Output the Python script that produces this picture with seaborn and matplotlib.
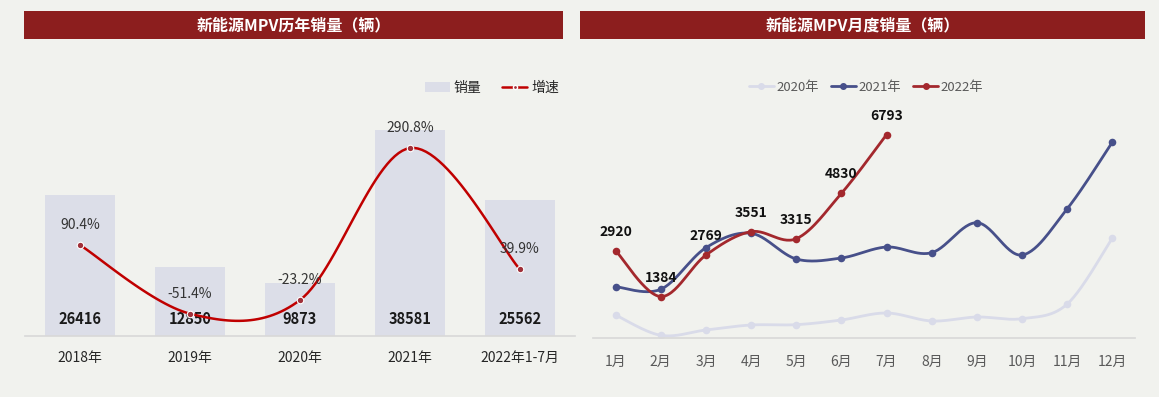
import numpy as np
import matplotlib
matplotlib.use("Agg")
import matplotlib.pyplot as plt
import seaborn as sns
from matplotlib.patches import Rectangle, Patch
from matplotlib.lines import Line2D

# ---------------- data ----------------
years = ["2018年", "2019年", "2020年", "2021年", "2022年1-7月"]
sales = [26416, 12850, 9873, 38581, 25562]
growth = [90.4, -51.4, -23.2, 290.8, 39.9]

months = ["1月", "2月", "3月", "4月", "5月", "6月", "7月", "8月", "9月", "10月", "11月", "12月"]
m2020 = [768, 90, 267, 434, 445, 601, 835, 568, 701, 645, 1135, 3340]
m2021 = [1713, 1626, 3015, 3496, 2638, 2671, 3038, 2849, 3850, 2771, 4317, 6544]
m2022 = [2920, 1384, 2769, 3551, 3315, 4830, 6793]

title_left = "新能源MPV历年销量（辆）"
title_right = "新能源MPV月度销量（辆）"

# ---------------- style ----------------
BG = "#F1F2EE"
BAR = "#DCDEE8"
RED_LINE = "#C00000"
TITLE_BG = "#8C1E1E"
C2020 = "#D9DBE9"
C2021 = "#47508A"
C2022 = "#A3282D"

sns.set_theme(style="white")
plt.rcParams["font.family"] = ["Noto Sans CJK SC", "DejaVu Sans"]

W, H = 1159, 397
fig = plt.figure(figsize=(W / 100, H / 100), dpi=100, facecolor=BG)


def rect(l, t, r, b):
    return [l / W, 1 - b / H, (r - l) / W, (b - t) / H]


def smooth(xs, ys, n=30):
    """Catmull-Rom curve through the points (Excel-like smoothed line)."""
    xs = np.asarray(xs, float)
    ys = np.asarray(ys, float)
    px, py = [], []
    k = len(xs)
    for i in range(k - 1):
        x0, y0 = (xs[i - 1], ys[i - 1]) if i > 0 else (xs[i], ys[i])
        x3, y3 = (xs[i + 2], ys[i + 2]) if i + 2 < k else (xs[i + 1], ys[i + 1])
        x1, y1, x2, y2 = xs[i], ys[i], xs[i + 1], ys[i + 1]
        c1x, c1y = x1 + (x2 - x0) / 6, y1 + (y2 - y0) / 6
        c2x, c2y = x2 - (x3 - x1) / 6, y2 - (y3 - y1) / 6
        t = np.linspace(0, 1, n)
        bx = (1 - t) ** 3 * x1 + 3 * (1 - t) ** 2 * t * c1x + 3 * (1 - t) * t ** 2 * c2x + t ** 3 * x2
        by = (1 - t) ** 3 * y1 + 3 * (1 - t) ** 2 * t * c1y + 3 * (1 - t) * t ** 2 * c2y + t ** 3 * y2
        px.extend(bx)
        py.extend(by)
    return np.array(px), np.array(py)


# ---------------- title bars ----------------
for (l, r, txt) in [(24, 563, title_left), (580, 1145, title_right)]:
    fig.patches.append(Rectangle((l / W, 1 - 39 / H), (r - l) / W, 28 / H,
                                 transform=fig.transFigure, facecolor=TITLE_BG,
                                 edgecolor="none", zorder=0))
    fig.text((l + r) / 2 / W, 1 - 25 / H, txt, color="white", fontsize=11.5,
             fontweight="bold", ha="center", va="center")

# ---------------- left chart ----------------
ax1 = fig.add_axes(rect(25, 100, 575, 336))
ax1.set_facecolor("none")
sns.barplot(x=years, y=sales, color=BAR, saturation=1, width=0.63, ax=ax1,
            edgecolor="none", linewidth=0)
ax1.set_ylim(0, 44199)
ax1.set_xlim(-0.5, 4.5)
ax1.set_ylabel("")
ax1.set_yticks([])
for s in ["top", "left", "right"]:
    ax1.spines[s].set_visible(False)
ax1.spines["bottom"].set_color("#D9D9D9")
ax1.tick_params(axis="x", length=0, pad=11, labelsize=10, labelcolor="#262626")

for i, v in enumerate(sales):
    ax1.annotate(f"{v}", (i, 0), xytext=(0, 17), textcoords="offset pixels",
                 ha="center", va="center", fontsize=10.5, fontweight="bold",
                 color="#1A1A1A", zorder=5)

ax2 = ax1.twinx()
ax2.set_ylim(-97.5, 390.1)
ax2.set_yticks([])
for s in ax2.spines.values():
    s.set_visible(False)
xs = np.arange(len(growth))
cx, cy = smooth(xs, growth)
ax2.plot(cx, cy, color=RED_LINE, lw=1.8, zorder=3)
sns.scatterplot(x=xs, y=growth, ax=ax2, color="#A0303A", s=22,
                edgecolor="white", linewidth=0.8, zorder=4, legend=False)
for i, g in enumerate(growth):
    ax2.annotate(f"{g:.1f}%", (i, g), xytext=(0, 20), textcoords="offset pixels",
                 ha="center", va="center", fontsize=10, color="#333333")

leg_handles = [Patch(facecolor=BAR, edgecolor="none", label="销量"),
               Line2D([], [], color=RED_LINE, lw=1.8, marker="o", markersize=3,
                      markerfacecolor="#A0303A", markeredgecolor="white", label="增速")]
fig.legend(handles=leg_handles, loc="center", bbox_to_anchor=(492 / W, 1 - 88 / H),
           ncol=2, frameon=False, fontsize=10, handlelength=1.8, handleheight=0.8,
           columnspacing=1.5, handletextpad=0.3)

# ---------------- right chart ----------------
ax3 = fig.add_axes(rect(593, 100, 1135, 338))
ax3.set_facecolor("none")
ax3.set_xlim(-0.5, 11.5)
ax3.set_ylim(0, 7947)
ax3.set_xticks(range(12))
ax3.set_xticklabels(months)
ax3.set_yticks([])
for s in ["top", "left", "right"]:
    ax3.spines[s].set_visible(False)
ax3.spines["bottom"].set_color("#D9D9D9")
ax3.tick_params(axis="x", length=0, pad=12, labelsize=10, labelcolor="#595959")

for vals, col, z in [(m2020, C2020, 2), (m2021, C2021, 3), (m2022, C2022, 4)]:
    x = np.arange(len(vals))
    sx, sy = smooth(x, vals)
    ax3.plot(sx, sy, color=col, lw=2, zorder=z, solid_capstyle="round")
    sns.scatterplot(x=x, y=vals, ax=ax3, color=col, s=30, edgecolor=col,
                    linewidth=0, zorder=z + 0.5, legend=False)

for i, v in enumerate(m2022):
    ax3.annotate(f"{v}", (i, v), xytext=(0, 19), textcoords="offset pixels",
                 ha="center", va="center", fontsize=10, fontweight="bold",
                 color="#111111", zorder=6)

r_handles = [Line2D([], [], color=c, lw=2, marker="o", markersize=4, label=l)
             for c, l in [(C2020, "2020年"), (C2021, "2021年"), (C2022, "2022年")]]
fig.legend(handles=r_handles, loc="center", bbox_to_anchor=(866 / W, 1 - 87 / H),
           ncol=3, frameon=False, fontsize=9.5, handlelength=1.9,
           columnspacing=0.9, handletextpad=0.2, labelcolor="#595959")

fig.savefig("out.png", dpi=100, facecolor=BG)
